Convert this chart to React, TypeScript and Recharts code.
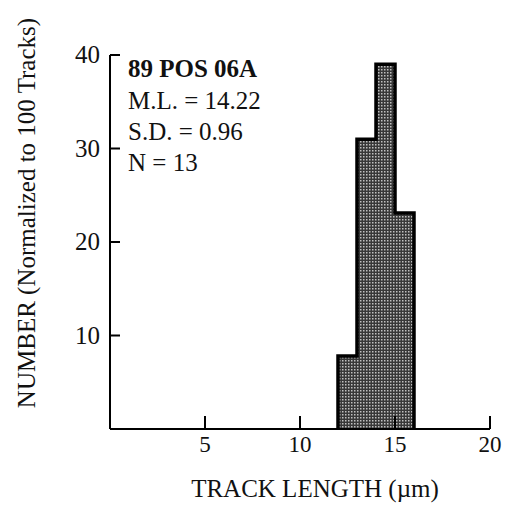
import { ComposedChart, Area, XAxis, YAxis } from 'recharts';

// track length histogram, 1 um bins
const binStarts = [12, 13, 14, 15];
const counts = [7.8, 31, 39, 23.1];
const binWidth = 1;

const xTicks = [5, 10, 15, 20];
const yTicks = [10, 20, 30, 40];

const sampleName = '89 POS 06A';
const statLines = ['M.L. = 14.22', 'S.D. = 0.96', 'N = 13'];

const lastIdx = binStarts.length - 1;
const outline = [
  { x: binStarts[0], y: 0 },
  ...binStarts.map((s, i) => ({ x: s, y: counts[i] })),
  { x: binStarts[lastIdx] + binWidth, y: counts[lastIdx] },
  { x: binStarts[lastIdx] + binWidth, y: 0 },
];

const FONT = '"Liberation Serif", "DejaVu Serif", serif';

function XTick({ x, y, payload }: any) {
  return (
    <g>
      <line x1={x} y1={y} x2={x} y2={y - 13} stroke="#000" strokeWidth={2} />
      <text x={x} y={y + 23} textAnchor="middle" fontSize={23} fontFamily={FONT} fill="#111">
        {payload.value}
      </text>
    </g>
  );
}

function YTick({ x, y, payload }: any) {
  return (
    <g>
      <line x1={x} y1={y} x2={x + 10} y2={y} stroke="#000" strokeWidth={2} />
      <text x={x - 10} y={y + 8} textAnchor="end" fontSize={25} fontFamily={FONT} fill="#111">
        {payload.value}
      </text>
    </g>
  );
}

export default function App() {
  return (
    <div style={{ position: 'absolute', left: 0, top: 0, width: 505, height: 512, background: '#fff' }}>
      <ComposedChart
        width={505}
        height={512}
        data={outline}
        margin={{ top: 55, right: 15, left: 0, bottom: 0 }}
      >
        <defs>
          <pattern id="stipple" width="3" height="3" patternUnits="userSpaceOnUse">
            <rect width="3" height="3" fill="#383838" />
            <rect width="1.5" height="1.5" fill="#c0c0c0" />
          </pattern>
        </defs>
        <XAxis
          type="number"
          dataKey="x"
          domain={[0, 20]}
          ticks={xTicks}
          height={83}
          tickSize={0}
          tickMargin={0}
          tick={<XTick />}
          axisLine={{ stroke: '#000', strokeWidth: 2 }}
          tickLine={false}
        />
        <YAxis
          type="number"
          domain={[0, 40]}
          ticks={yTicks}
          width={110}
          tickSize={0}
          tickMargin={0}
          tick={<YTick />}
          axisLine={{ stroke: '#000', strokeWidth: 2 }}
          tickLine={false}
        />
        <Area
          type="stepAfter"
          dataKey="y"
          stroke="#000"
          strokeWidth={3.5}
          strokeLinejoin="miter"
          fill="url(#stipple)"
          fillOpacity={1}
          dot={false}
          activeDot={false}
          isAnimationActive={false}
        />
      </ComposedChart>
      <svg
        width={505}
        height={512}
        style={{ position: 'absolute', left: 0, top: 0, pointerEvents: 'none' }}
      >
        <text x={128} y={77} fontSize={25} fontWeight="bold" fontFamily={FONT} fill="#111">
          {sampleName}
        </text>
        {statLines.map((s, i) => (
          <text key={s} x={128} y={109 + i * 31} fontSize={25} fontFamily={FONT} fill="#111">
            {s}
          </text>
        ))}
        <text
          x={0}
          y={0}
          transform="translate(35, 213) rotate(-90)"
          textAnchor="middle"
          fontSize={25}
          fontFamily={FONT}
          fill="#111"
        >
          NUMBER (Normalized to 100 Tracks)
        </text>
        <text x={315} y={497} textAnchor="middle" fontSize={25} fontFamily={FONT} fill="#111">
          TRACK LENGTH (µm)
        </text>
      </svg>
    </div>
  );
}
